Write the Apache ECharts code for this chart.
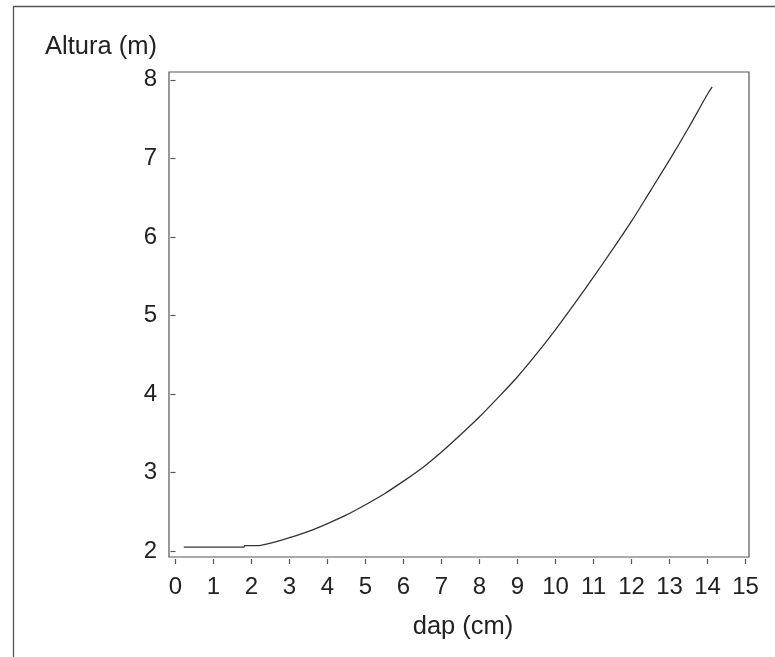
<!DOCTYPE html>
<html>
<head>
<meta charset="utf-8">
<script src="https://cdn.jsdelivr.net/npm/echarts@6/dist/echarts.min.js"></script>
<style>
  html, body { margin: 0; padding: 0; background: #fff; }
  #chart { width: 775px; height: 657px; }
</style>
</head>
<body>
<div id="chart"></div>
<script>
// Height–diameter curve: tree height (m) against diameter at breast height (cm)
const dap = [0.22, 1.80, 1.82, 2.20, 2.50, 3.00, 3.50, 4.00, 4.50, 5.00, 5.50, 6.00, 6.50,
             7.00, 7.50, 8.00, 8.50, 9.00, 9.50, 10.00, 10.50, 11.00, 11.50, 12.00,
             12.50, 13.00, 13.50, 14.00, 14.12];
const altura = [2.05, 2.05, 2.07, 2.07, 2.10, 2.17, 2.25, 2.35, 2.46, 2.59, 2.73, 2.89, 3.06,
                3.26, 3.48, 3.71, 3.96, 4.22, 4.51, 4.82, 5.15, 5.49, 5.84, 6.20,
                6.59, 6.98, 7.39, 7.82, 7.91];

const xTicks = [0, 1, 2, 3, 4, 5, 6, 7, 8, 9, 10, 11, 12, 13, 14, 15];
const yTicks = [2, 3, 4, 5, 6, 7, 8];

const xTitle = 'dap (cm)';
const yTitle = 'Altura (m)';

const FONT = '"Liberation Sans", Arial, sans-serif';
const AXIS_COLOR = '#555';

const chart = echarts.init(document.getElementById('chart'), null, { renderer: 'canvas' });

const points = dap.map((d, i) => [d, altura[i]]);

chart.setOption({
  animation: false,
  backgroundColor: '#fff',
  grid: {
    left: 169, top: 72, right: 26, bottom: 100,
    show: true, borderColor: AXIS_COLOR, borderWidth: 1.2, backgroundColor: 'transparent'
  },
  xAxis: {
    type: 'value',
    min: -0.17, max: 15.09,
    offset: 2,
    axisLine: { show: false },
    splitLine: { show: false },
    axisTick: {
      show: true, length: 5, lineStyle: { color: AXIS_COLOR, width: 1.2 },
      customValues: xTicks
    },
    axisLabel: {
      customValues: xTicks,
      fontFamily: FONT, fontSize: 24, color: '#222', margin: 16
    }
  },
  yAxis: {
    type: 'value',
    min: 1.924, max: 8.1,
    offset: 2,
    axisLine: { show: false },
    splitLine: { show: false },
    axisTick: {
      show: true, length: 5, lineStyle: { color: AXIS_COLOR, width: 1.2 },
      customValues: yTicks
    },
    axisLabel: {
      customValues: yTicks,
      fontFamily: FONT, fontSize: 24, color: '#222', margin: 10
    }
  },
  series: [{
    type: 'line',
    data: points,
    showSymbol: false,
    smooth: 0.3,
    lineStyle: { color: '#333', width: 1.3 }
  }],
  graphic: [
    { type: 'line', shape: { x1: 13, y1: 6.5, x2: 775, y2: 6.5 }, style: { stroke: '#555', lineWidth: 1.3 } },
    { type: 'line', shape: { x1: 13.5, y1: 6, x2: 13.5, y2: 657 }, style: { stroke: '#555', lineWidth: 1.3 } },
    {
      type: 'text', left: 45, top: 34,
      style: { text: yTitle, font: '25.5px ' + FONT, fill: '#222' }
    },
    {
      type: 'text', x: 463, y: 627,
      style: { text: xTitle, font: '25.5px ' + FONT, fill: '#222', align: 'center', verticalAlign: 'middle' }
    }
  ]
});
</script>
</body>
</html>
